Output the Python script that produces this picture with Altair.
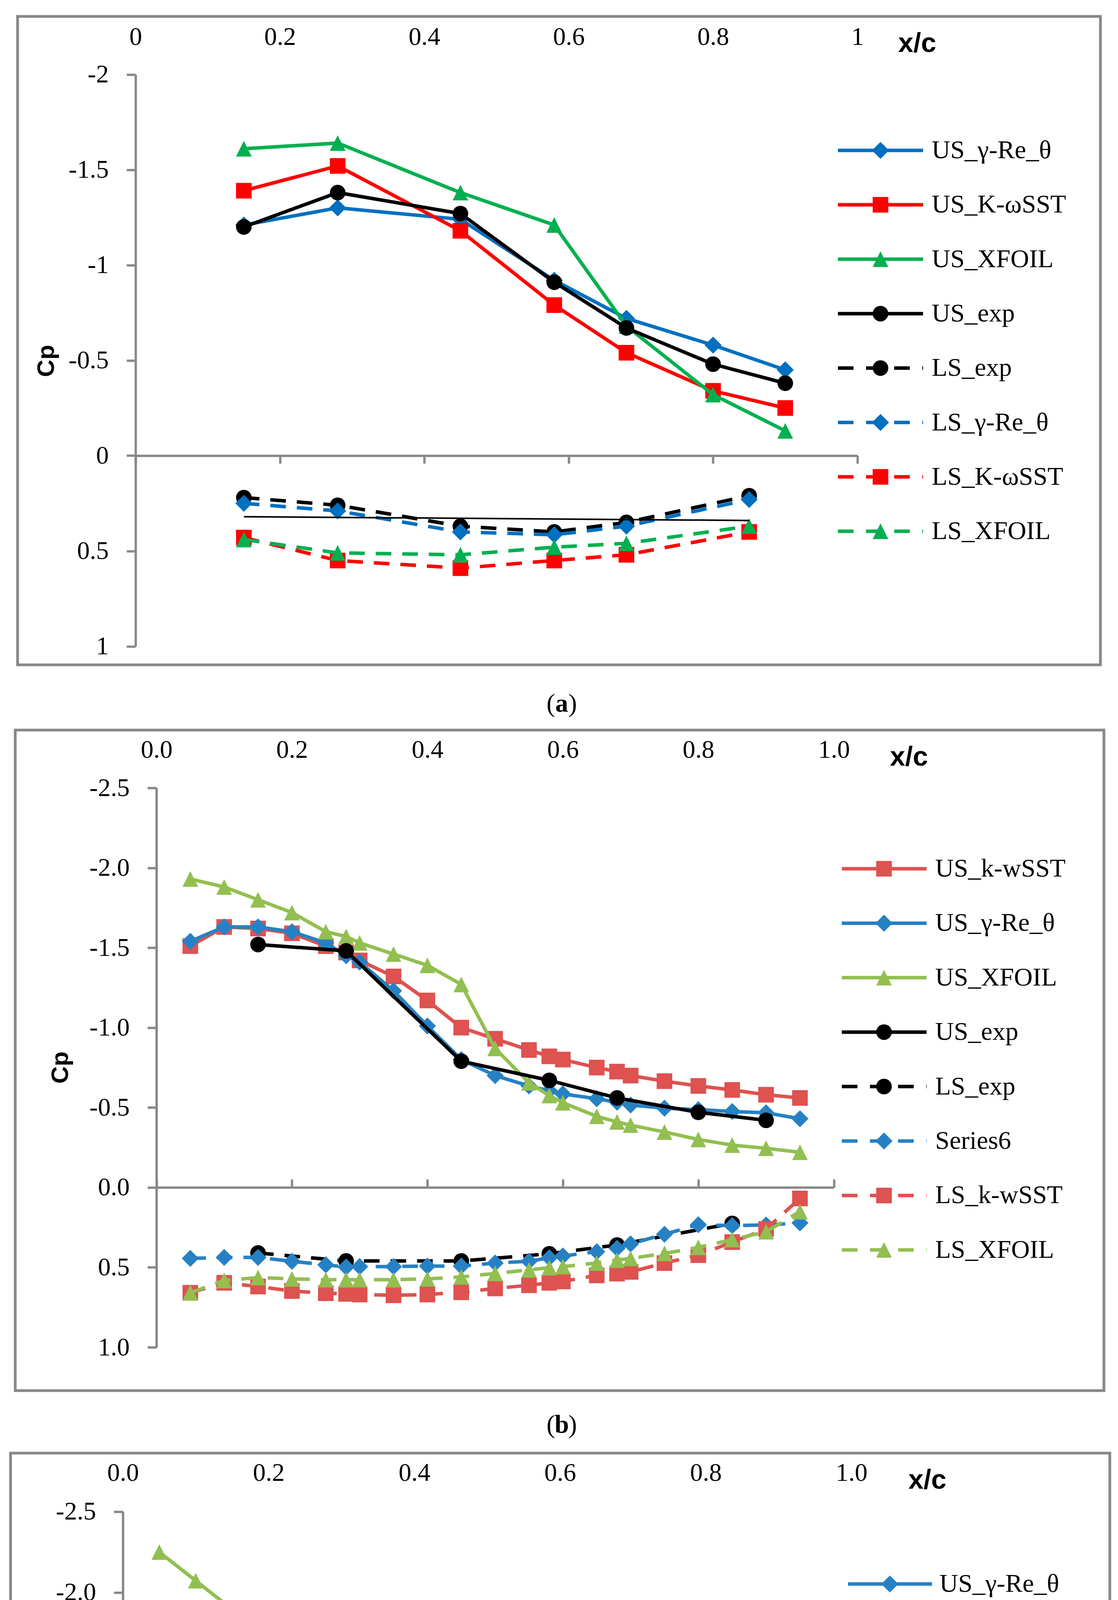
import altair as alt
import pandas as pd

# ---------------- panel (a) data ----------------
A_NAMES = ["US_γ-Re_θ", "US_K-ωSST", "US_XFOIL", "US_exp",
           "LS_exp", "LS_γ-Re_θ", "LS_K-ωSST", "LS_XFOIL"]
A_X_US = [0.15, 0.28, 0.45, 0.58, 0.68, 0.80, 0.90]
A_X_LS = [0.15, 0.28, 0.45, 0.58, 0.68, 0.85]
A_US_GRT = [-1.21, -1.30, -1.24, -0.92, -0.72, -0.58, -0.45]
A_US_KW = [-1.39, -1.52, -1.18, -0.79, -0.54, -0.34, -0.25]
A_US_XF = [-1.61, -1.64, -1.38, -1.21, -0.68, -0.32, -0.13]
A_US_EXP = [-1.20, -1.38, -1.27, -0.91, -0.67, -0.48, -0.38]
A_LS_EXP = [0.22, 0.26, 0.37, 0.40, 0.35, 0.21]
A_LS_GRT = [0.25, 0.29, 0.40, 0.415, 0.37, 0.23]
A_LS_KW = [0.43, 0.55, 0.59, 0.55, 0.52, 0.40]
A_LS_XF = [0.44, 0.51, 0.52, 0.48, 0.46, 0.37]
A_TREND_X = [0.15, 0.85]
A_TREND = [0.32, 0.34]
A_Y_TICKS = [-2, -1.5, -1, -0.5, 0, 0.5, 1]

# ---------------- panel (b) data ----------------
B_NAMES = ["US_k-wSST", "US_γ-Re_θ", "US_XFOIL", "US_exp",
           "LS_exp", "Series6", "LS_k-wSST", "LS_XFOIL"]
BC_X = [0.05, 0.10, 0.15, 0.20, 0.25, 0.28, 0.30, 0.35, 0.40, 0.45, 0.50,
        0.55, 0.58, 0.60, 0.65, 0.68, 0.70, 0.75, 0.80, 0.85, 0.90, 0.95]
EXP_X_US = [0.15, 0.28, 0.45, 0.58, 0.68, 0.80, 0.90]
EXP_X_LS = [0.15, 0.28, 0.45, 0.58, 0.68, 0.85]
B_US_KW = [-1.51, -1.63, -1.62, -1.59, -1.51, -1.47, -1.42, -1.32, -1.17, -1.00, -0.93,
           -0.86, -0.82, -0.80, -0.75, -0.725, -0.70, -0.665, -0.635, -0.61, -0.58, -0.56]
B_US_GRT = [-1.54, -1.63, -1.63, -1.60, -1.53, -1.45, -1.41, -1.23, -1.01, -0.80, -0.70,
            -0.635, -0.605, -0.585, -0.555, -0.533, -0.516, -0.496, -0.487, -0.475, -0.467, -0.43]
B_US_XF = [-1.93, -1.88, -1.80, -1.72, -1.60, -1.57, -1.53, -1.46, -1.39, -1.27, -0.87,
           -0.655, -0.575, -0.53, -0.445, -0.41, -0.39, -0.347, -0.30, -0.265, -0.245, -0.22]
B_US_EXP = [-1.52, -1.48, -0.79, -0.67, -0.56, -0.47, -0.42]
B_LS_EXP = [0.41, 0.46, 0.46, 0.415, 0.36, 0.225]
B_LS_S6 = [0.444, 0.438, 0.438, 0.462, 0.484, 0.498, 0.495, 0.495, 0.492, 0.492, 0.473,
           0.462, 0.44, 0.429, 0.402, 0.381, 0.353, 0.293, 0.233, 0.239, 0.235, 0.222]
B_LS_KW = [0.659, 0.597, 0.62, 0.648, 0.662, 0.666, 0.67, 0.675, 0.67, 0.656, 0.632,
           0.612, 0.597, 0.588, 0.55, 0.539, 0.528, 0.473, 0.424, 0.342, 0.26, 0.069]
B_LS_XF = [0.659, 0.582, 0.564, 0.572, 0.577, 0.577, 0.577, 0.577, 0.572, 0.56, 0.538,
           0.516, 0.502, 0.495, 0.473, 0.455, 0.444, 0.413, 0.375, 0.326, 0.277, 0.151]

# ---------------- panel (c) data ----------------
C_NAMES = ["US_γ-Re_θ", "US_k-wSST", "US_XFOIL", "US_exp",
           "LS_exp", "LS_TR", "LS_k-wSST", "LS_XFOIL"]
C_US_GRT = [-1.75, -1.825, -1.765, -1.60, -1.465, -1.42, -1.365, -1.27, -1.16, -1.07, -0.963,
            -0.866, -0.812, -0.785, -0.731, -0.694, -0.683, -0.646, -0.63, -0.608, -0.554, -0.511]
C_US_KW = [-1.862, -1.815, -1.73, -1.634, -1.481, -1.363, -1.278, -1.041, -0.83, -0.724, -0.67,
           -0.62, -0.603, -0.581, -0.572, -0.576, -0.56, -0.548, -0.543, -0.532, -0.494]
C_US_XF = [-2.25, -2.073, -1.896, -1.752, -1.625, -1.583, -1.549, -1.506, -1.177, -0.88, -0.635,
           -0.548, -0.506, -0.479, -0.436, -0.409, -0.398, -0.36, -0.333, -0.306, -0.285, -0.263]
C_US_EXP = [-1.486, -1.197, -0.808, -0.604, -0.522, -0.452, -0.409]
C_LS_EXP = [0.498, 0.54, 0.50, 0.452, 0.374, 0.249]
C_LS_TR = [0.55, 0.54, 0.535, 0.545, 0.55, 0.563, 0.556, 0.556, 0.54, 0.538, 0.519,
           0.503, 0.488, 0.467, 0.437, 0.394, 0.363, 0.306, 0.239, 0.265, 0.26, 0.244]
C_LS_KW = [0.81, 0.727, 0.70, 0.708, 0.711, 0.711, 0.711, 0.708, 0.70, 0.682, 0.656,
           0.63, 0.613, 0.605, 0.568, 0.548, 0.536, 0.485, 0.429, 0.343, 0.213, 0.013]
C_LS_XF = [0.77, 0.67, 0.628, 0.62, 0.623, 0.62, 0.617, 0.607, 0.592, 0.576, 0.555,
           0.529, 0.51, 0.498, 0.477, 0.46, 0.452, 0.415, 0.389, 0.337, 0.275, 0.135]
BC_Y_TICKS = [-2.5, -2.0, -1.5, -1.0, -0.5, 0.0, 0.5, 1.0]
X_TICKS = [0, 0.2, 0.4, 0.6, 0.8, 1.0]

# ---------------- styles / layout ----------------
GRAY = "#888888"
SERIF = "Liberation Serif"
SANS = "Liberation Sans"
FS = 65
A_COL = {"blue": "#0070C0", "red": "#FF0000", "green": "#00B050", "black": "#000000"}
B_COL = {"blue": "#2681C4", "red": "#DE5250", "green": "#92BF50", "black": "#000000"}
TRI = "M0,-1L1,1L-1,1Z"
SHAPE = {"diamond": ("diamond", 1900), "square": ("square", 1600),
         "triangle": (TRI, 1600), "circle": ("circle", 1600)}
DATA_DASH = [40, 28]
LEG_DASH = [40, 32]
ONE = pd.DataFrame({"k": [0]})
TOTAL_W, TOTAL_H = 2846, 5500   # one drawing area covering the page (8px body margin)

NEG = "replace(replace(format(datum.value, '{f}'), '\u2212', '-'), '\u2013', '-')"


def C(v):
    """page pixel -> drawing-area pixel"""
    return v - 8


def ser(name, xs, ys, col, dashed, shape, legend=True, width=9):
    return dict(name=name, x=xs, y=ys, color=col, dashed=dashed, shape=shape,
                legend=legend, width=width)


PANELS = [
    dict(
        plot=(347.0, 190.5, 1848, 1464), ydom=[-2, 1], yticks=A_Y_TICKS,
        yfmt=NEG.format(f="~g"), xfmt="format(datum.value, '~g')",
        frame=(45, 42, 2817, 1702), toppad=76, zorient="bottom", ztick=20,
        xc=(2348, 112), cp=(119, 924), tag="a", tagpos=(1438, 1802),
        legend=(2145, 2363, 2254, 2385, 385, 139.3),
        series=[
            ser(A_NAMES[0], A_X_US, A_US_GRT, A_COL["blue"], False, "diamond"),
            ser(A_NAMES[1], A_X_US, A_US_KW, A_COL["red"], False, "square"),
            ser(A_NAMES[2], A_X_US, A_US_XF, A_COL["green"], False, "triangle"),
            ser(A_NAMES[3], A_X_US, A_US_EXP, A_COL["black"], False, "circle"),
            ser(A_NAMES[4], A_X_LS, A_LS_EXP, A_COL["black"], True, "circle"),
            ser(A_NAMES[5], A_X_LS, A_LS_GRT, A_COL["blue"], True, "diamond"),
            ser(A_NAMES[6], A_X_LS, A_LS_KW, A_COL["red"], True, "square"),
            ser(A_NAMES[7], A_X_LS, A_LS_XF, A_COL["green"], True, "triangle"),
            ser("trend", A_TREND_X, A_TREND, A_COL["black"], False, None, legend=False, width=4),
        ],
    ),
    dict(
        plot=(400.5, 2017.0, 1734, 1432), ydom=[-2.5, 1], yticks=BC_Y_TICKS,
        yfmt=NEG.format(f=".1f"), xfmt="format(datum.value, '.1f')",
        frame=(39, 1869, 2826, 3560), toppad=78, zorient="top", ztick=21,
        xc=(2327, 1939), cp=(155, 2733), tag="b", tagpos=(1438, 3648),
        legend=(2155, 2372, 2263, 2394, 2224, 139.4),
        series=[
            ser(B_NAMES[0], BC_X, B_US_KW, B_COL["red"], False, "square"),
            ser(B_NAMES[1], BC_X, B_US_GRT, B_COL["blue"], False, "diamond"),
            ser(B_NAMES[2], BC_X, B_US_XF, B_COL["green"], False, "triangle"),
            ser(B_NAMES[3], EXP_X_US, B_US_EXP, B_COL["black"], False, "circle"),
            ser(B_NAMES[4], EXP_X_LS, B_LS_EXP, B_COL["black"], True, "circle"),
            ser(B_NAMES[5], BC_X, B_LS_S6, B_COL["blue"], True, "diamond"),
            ser(B_NAMES[6], BC_X, B_LS_KW, B_COL["red"], True, "square"),
            ser(B_NAMES[7], BC_X, B_LS_XF, B_COL["green"], True, "triangle"),
        ],
    ),
    dict(
        plot=(314.5, 3869.6, 1865, 1451), ydom=[-2.5, 1], yticks=BC_Y_TICKS,
        yfmt=NEG.format(f=".1f"), xfmt="format(datum.value, '.1f')",
        frame=(27, 3720, 2841, 5366), toppad=79, zorient="top", ztick=21,
        xc=(2374, 3790), cp=(100, 4596), tag="c", tagpos=(1438, 5468),
        legend=(2171, 2386, 2278, 2405, 4055, 139.0),
        series=[
            ser(C_NAMES[0], BC_X, C_US_GRT, B_COL["blue"], False, "diamond"),
            ser(C_NAMES[1], BC_X[:21], C_US_KW, B_COL["red"], False, "square"),
            ser(C_NAMES[2], BC_X, C_US_XF, B_COL["green"], False, "triangle"),
            ser(C_NAMES[3], EXP_X_US, C_US_EXP, B_COL["black"], False, "circle"),
            ser(C_NAMES[4], EXP_X_LS, C_LS_EXP, B_COL["black"], True, "circle"),
            ser(C_NAMES[5], BC_X, C_LS_TR, B_COL["blue"], True, "diamond"),
            ser(C_NAMES[6], BC_X, C_LS_KW, B_COL["red"], True, "square"),
            ser(C_NAMES[7], BC_X, C_LS_XF, B_COL["green"], True, "triangle"),
        ],
    ),
]


def panel_layers(P):
    px0, py0, W, H = P["plot"]
    dom = P["ydom"]
    xs = alt.Scale(domain=[0, 1], range=[C(px0), C(px0 + W)], nice=False, zero=False)
    ys = alt.Scale(domain=dom, range=[C(py0), C(py0 + H)], nice=False, zero=False)
    y_zero = C(py0) + H * (0 - dom[0]) / (dom[1] - dom[0])
    zoff = -(TOTAL_H - y_zero) if P["zorient"] == "bottom" else -y_zero

    out = []
    fx0, fy0, fx1, fy1 = P["frame"]
    out.append(alt.Chart(ONE).mark_rect(fillOpacity=0, stroke=GRAY, strokeWidth=7).encode(
        x=alt.value(C(fx0)), x2=alt.value(C(fx1)),
        y=alt.value(C(fy0)), y2=alt.value(C(fy1))))

    label_axis = alt.Axis(orient="top", offset=-C(py0), values=X_TICKS, labelExpr=P["xfmt"],
                          domain=False, ticks=False, tickSize=0, labelPadding=P["toppad"],
                          labelBaseline="alphabetic", labelFont=SERIF, labelFontSize=FS,
                          labelColor="black", labelFlush=False, labelOverlap=False,
                          grid=False, title=None)
    zero_axis = alt.Axis(orient=P["zorient"], offset=zoff, values=X_TICKS, labels=False,
                         ticks=True, tickSize=P["ztick"], tickWidth=6, tickColor=GRAY,
                         domainColor=GRAY, domainWidth=6, grid=False, title=None)
    y_axis = alt.Axis(orient="left", offset=-C(px0), values=P["yticks"], labelExpr=P["yfmt"],
                      tickSize=23, tickWidth=6, tickColor=GRAY, domainColor=GRAY,
                      domainWidth=6, labelPadding=46, labelFont=SERIF, labelFontSize=FS,
                      labelColor="black", labelOverlap=False, grid=False, title=None)

    for i, s in enumerate(P["series"]):
        df = pd.DataFrame({"x": s["x"], "cp": s["y"]})
        xa = label_axis if i == 0 else (zero_axis if i == 1 else None)
        ya = y_axis if i == 0 else None
        lk = dict(color=s["color"], strokeWidth=s["width"], strokeJoin="round")
        if s["dashed"]:
            lk["strokeDash"] = DATA_DASH
        out.append(alt.Chart(df).mark_line(**lk).encode(
            x=alt.X("x:Q", scale=xs, axis=xa),
            y=alt.Y("cp:Q", scale=ys, axis=ya)))
        if s["shape"]:
            shp, size = SHAPE[s["shape"]]
            out.append(alt.Chart(df).mark_point(
                shape=shp, size=size, filled=True, opacity=1, color=s["color"],
                strokeWidth=0).encode(
                x=alt.X("x:Q", scale=xs, axis=None),
                y=alt.Y("cp:Q", scale=ys, axis=None)))

    # legend
    lx1, lx2, mx, tx, ly0, lstep = P["legend"]
    leg = [s for s in P["series"] if s["legend"]]
    for j, s in enumerate(leg):
        yy = C(ly0 + j * lstep)
        rk = dict(color=s["color"], strokeWidth=9)
        if s["dashed"]:
            rk["strokeDash"] = LEG_DASH
        out.append(alt.Chart(ONE).mark_rule(**rk).encode(
            x=alt.value(C(lx1)), x2=alt.value(C(lx2)), y=alt.value(yy)))
        shp, size = SHAPE[s["shape"]]
        out.append(alt.Chart(ONE).mark_point(
            shape=shp, size=size, filled=True, opacity=1, color=s["color"],
            strokeWidth=0).encode(x=alt.value(C(mx)), y=alt.value(yy)))
        out.append(alt.Chart(ONE).mark_text(
            text=s["name"], align="left", baseline="middle", font=SERIF, fontSize=66,
            color="black").encode(x=alt.value(C(tx)), y=alt.value(yy)))

    # axis captions
    out.append(alt.Chart(ONE).mark_text(
        text="x/c", font=SANS, fontWeight="bold", fontSize=70, align="center",
        baseline="middle", color="black").encode(
        x=alt.value(C(P["xc"][0])), y=alt.value(C(P["xc"][1]))))
    out.append(alt.Chart(ONE).mark_text(
        text="Cp", font=SANS, fontWeight="bold", fontSize=62, align="center",
        baseline="middle", angle=270, color="black").encode(
        x=alt.value(C(P["cp"][0])), y=alt.value(C(P["cp"][1]))))

    # panel tag like "(a)" with a bold letter
    tgx, tgy = P["tagpos"]
    for txt, dx, bold in (("(", -28, False), (P["tag"], 0, True), (")", 28, False)):
        tk = dict(text=txt, font=SERIF, fontSize=66, align="center", baseline="middle",
                  color="black")
        if bold:
            tk["fontWeight"] = "bold"
        out.append(alt.Chart(ONE).mark_text(**tk).encode(
            x=alt.value(C(tgx + dx)), y=alt.value(C(tgy))))
    return out


all_layers = []
for P in PANELS:
    all_layers.extend(panel_layers(P))

chart = alt.layer(*all_layers).resolve_scale(
    x="independent", y="independent").properties(
    width=TOTAL_W, height=TOTAL_H, padding=0, background="white").configure_view(stroke=None)

chart.save("out.html", embed_options={"renderer": "svg", "actions": False})
